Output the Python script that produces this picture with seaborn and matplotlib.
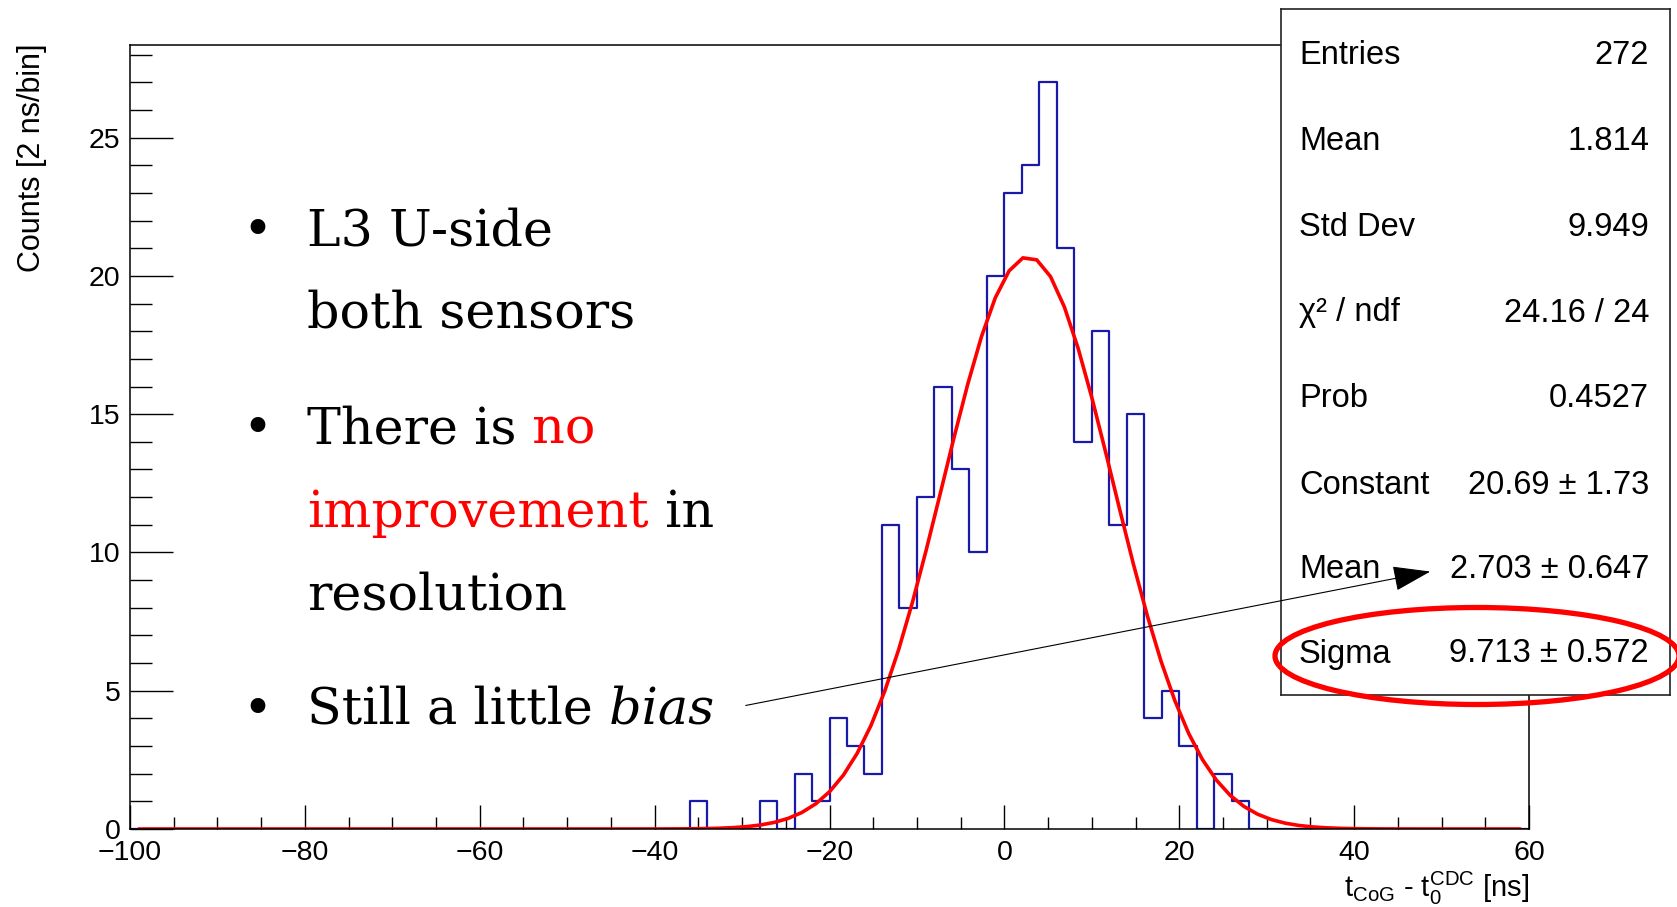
import numpy as np
import pandas as pd
import matplotlib
matplotlib.use("Agg")
import matplotlib.pyplot as plt
from matplotlib.patches import Ellipse, FancyArrowPatch
from matplotlib.ticker import MultipleLocator
import seaborn as sns

# ---- histogram contents (2 ns bins, only non-empty bins listed) ----
bin_low = [-36, -28, -24, -22, -20, -18, -16, -14, -12, -10, -8, -6, -4, -2,
           0, 2, 4, 6, 8, 10, 12, 14, 16, 18, 20, 24, 26]
counts = [1, 1, 2, 1, 4, 3, 2, 11, 8, 12, 16, 13, 10, 20,
          23, 24, 27, 21, 14, 18, 11, 15, 4, 5, 3, 2, 1]
bin_width = 2
x_range = (-100, 60)

# ---- Gaussian fit parameters ----
fit_constant = 20.69
fit_mean = 2.703
fit_sigma = 9.713

# ---- statistics box ----
stat_labels = ["Entries", "Mean", "Std Dev", "\u03c7\u00b2 / ndf", "Prob",
               "Constant", "Mean", "Sigma"]
stat_values = ["272", "1.814", "9.949", "24.16 / 24", "0.4527",
               "20.69 \u00b1 1.73", "2.703 \u00b1 0.647", "9.713 \u00b1 0.572"]

# ---- bullet notes: (segments, has_bullet); segment = (text, colour, style) ----
notes = [
    ([("L3 U-side", "black", "normal")], True),
    ([("both sensors", "black", "normal")], False),
    ([("There is", "black", "normal"), (" no", "red", "normal")], True),
    ([("improvement", "red", "normal"), (" in", "black", "normal")], False),
    ([("resolution", "black", "normal")], False),
    ([("Still a little", "black", "normal"), (" bias", "black", "italic")], True),
]

x_title = r"$\mathregular{t_{CoG}}$ - $\mathregular{t_{0}^{CDC}}$ [ns]"
y_title = "Counts [2 ns/bin]"

sns.set_theme(style="white")
plt.rcParams["font.family"] = ["Liberation Sans", "DejaVu Sans"]
plt.rcParams["mathtext.fontset"] = "custom"
plt.rcParams["mathtext.rm"] = "Liberation Sans"
plt.rcParams["axes.unicode_minus"] = True

W, H = 1677, 907
fig = plt.figure(figsize=(W / 100, H / 100), dpi=100)
fig.patch.set_facecolor("white")


def fx(px):
    return px / W


def fy(py):
    return 1 - py / H


ax = fig.add_axes([fx(130), fy(829), fx(1529) - fx(130), fy(45) - fy(829)])
ax.set_facecolor("white")

hist_df = pd.DataFrame({"t": np.array(bin_low) + bin_width / 2,
                        "n": counts})
sns.histplot(data=hist_df, x="t", weights="n", binwidth=bin_width,
             binrange=x_range, element="step", fill=False,
             color="#1a1aaa", linewidth=1.6, ax=ax)

xs = np.linspace(x_range[0] + 1, x_range[1] - 1, 101)
ys = fit_constant * np.exp(-0.5 * ((xs - fit_mean) / fit_sigma) ** 2)
sns.lineplot(x=xs, y=ys, color="red", linewidth=2.6, ax=ax)

ax.set_xlim(*x_range)
ax.set_ylim(0, max(counts) * 1.05)
ax.set_xlabel("")
ax.set_ylabel("")

ax.xaxis.set_major_locator(MultipleLocator(20))
ax.xaxis.set_minor_locator(MultipleLocator(5))
ax.yaxis.set_major_locator(MultipleLocator(5))
ax.yaxis.set_minor_locator(MultipleLocator(1))
ax.tick_params(axis="both", which="both", direction="in", color="black",
               width=1.0, labelsize=20.5, labelcolor="black",
               top=False, right=False, bottom=True, left=True)
ax.tick_params(axis="y", which="major", length=31, pad=7)
ax.tick_params(axis="y", which="minor", length=16)
ax.tick_params(axis="x", which="major", length=17, pad=8)
ax.tick_params(axis="x", which="minor", length=9)
for s in ax.spines.values():
    s.set_color("black")
    s.set_linewidth(1.1)

fig.text(fx(32), fy(43), y_title, rotation=90, ha="center", va="top",
         fontsize=22, color="black")
fig.text(fx(1529), fy(870), x_title, ha="right", va="top", fontsize=21,
         color="black")

# ---- bullet notes ----
baselines = [245, 327, 443, 527, 609, 724]
serif = ["DejaVu Serif"]
for (segments, bullet), base in zip(notes, baselines):
    if bullet:
        fig.text(fx(257), fy(base), "\u2022", ha="center", va="baseline",
                 fontsize=36.5, family=serif, color="black")
    prev = None
    for text, colour, style in segments:
        if prev is None:
            prev = fig.text(fx(307), fy(base), text, ha="left", va="baseline",
                            fontsize=36.5, family=serif, color=colour,
                            style=style)
        else:
            prev = ax.annotate(text, xy=(1, 0), xycoords=prev, ha="left",
                               va="bottom", fontsize=36.5, family=serif,
                               color=colour, style=style,
                               annotation_clip=False)

# ---- statistics box ----
box = fig.add_axes([fx(1281), fy(695), fx(1670) - fx(1281), fy(9) - fy(695)])
box.set_facecolor("white")
box.set_xticks([])
box.set_yticks([])
for s in box.spines.values():
    s.set_color("#222222")
    s.set_linewidth(1.2)

row_y = [56, 142, 228, 313, 399, 485, 570, 654]
for lab, val, yy in zip(stat_labels, stat_values, row_y):
    fig.text(fx(1299), fy(yy), lab, ha="left", va="center", fontsize=23.5,
             color="black", zorder=20)
    fig.text(fx(1649), fy(yy), val, ha="right", va="center", fontsize=23.5,
             color="black", zorder=20)

# ---- highlight ring around the fitted width ----
ring = Ellipse((fx(1477), fy(656)), width=404 / W, height=97 / H,
               transform=fig.transFigure, fill=False, edgecolor="red",
               linewidth=3.8, zorder=30)
fig.add_artist(ring)

# ---- arrow from the note to the fitted mean ----
arrow = FancyArrowPatch((fx(743), fy(706)), (fx(1433), fy(571)),
                        transform=fig.transFigure,
                        arrowstyle="-|>,head_length=24,head_width=8",
                        mutation_scale=1, color="black", linewidth=0.8,
                        zorder=30)
fig.add_artist(arrow)

fig.savefig("out.png", dpi=100, facecolor="white")
